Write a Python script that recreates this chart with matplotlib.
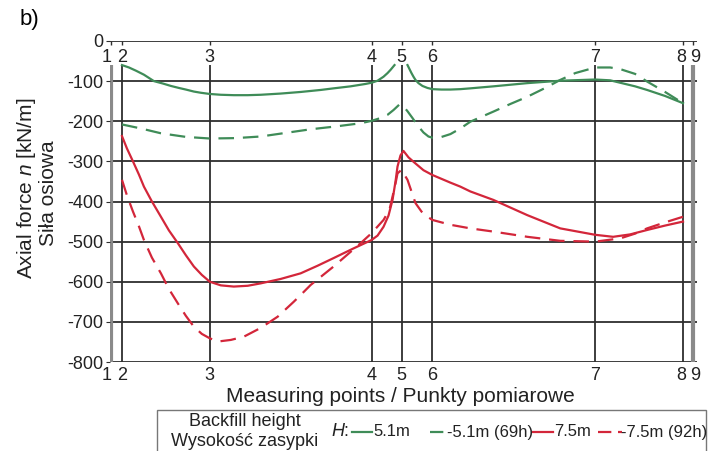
import numpy as np
import matplotlib.pyplot as plt
from matplotlib.lines import Line2D
from matplotlib.patches import Rectangle

plt.rcParams['font.family'] = ['Liberation Sans', 'DejaVu Sans']
plt.rcParams['mathtext.fontset'] = 'custom'
plt.rcParams['mathtext.it'] = 'Liberation Sans:italic'

# measuring points and their position along the lining (arbitrary units)
point_labels = ['1', '2', '3', '4', '5', '6', '7', '8', '9']
point_pos = [0, 11, 99, 261, 291, 322, 485, 573, 583]

# H = 5.1 m (two branches, broken at point 5)
g1_xa = [11, 18, 25, 33, 43, 52, 60, 68, 75, 83, 90, 99, 110, 123, 137, 150, 170, 190, 210, 223,
         240, 255, 261, 267, 273, 277, 280, 284]
g1_ya = [-60, -66, -74, -84, -100, -106, -112, -117, -121, -126, -129, -132, -134, -135, -135, -134,
         -131, -127, -122, -118, -113, -107, -104, -99, -89, -80, -72, -60]
g1_xb = [297, 299, 301, 303, 305, 308, 312, 317, 322, 331, 340, 350, 360, 383, 417, 450, 485, 500,
         510, 525, 537, 555, 573]
g1_yb = [-60, -70, -80, -89, -97, -105, -112, -117, -120, -121, -121, -120, -118, -113, -105, -99,
         -96, -98, -104, -113, -122, -137, -155]

# H = 5.1 m (69h)
g2_x = [11, 30, 50, 75, 99, 125, 150, 175, 200, 225, 250, 261, 270, 277, 283, 289, 293, 297, 302,
        307, 313, 318, 322, 330, 340, 350, 360, 383, 400, 417, 435, 450, 465, 485, 500, 510, 525,
        537, 555, 573]
g2_y = [-208, -218, -230, -239, -243, -242, -238, -229, -220, -213, -205, -199, -192, -184, -172,
        -158, -163, -175, -192, -210, -228, -238, -241, -240, -232, -218, -201, -176, -157, -139,
        -117, -97, -80, -66, -66, -70, -82, -101, -127, -155]

# H = 7.5 m
r1_x = [11, 16, 22, 28, 33, 41, 50, 58, 67, 75, 83, 91, 99, 110, 123, 137, 150, 170, 190, 207,
        223, 242, 261, 267, 273, 278, 282, 285, 287, 290, 293, 298, 303, 313, 322, 340, 350, 360,
        383, 417, 450, 485, 503, 520, 537, 555, 573]
r1_y = [-237, -268, -300, -333, -363, -400, -438, -472, -504, -534, -562, -583, -600, -609, -612,
        -610, -604, -593, -579, -560, -541, -518, -496, -485, -463, -435, -396, -350, -313, -285,
        -274, -290, -301, -322, -334, -353, -363, -375, -396, -434, -467, -483, -488, -482, -471,
        -460, -450]

# H = 7.5 m (92h)
r2_x = [11, 16, 22, 28, 33, 41, 50, 58, 67, 75, 83, 91, 99, 107, 120, 133, 150, 167, 183, 190,
        200, 223, 250, 261, 273, 279, 282, 285, 287, 291, 297, 301, 305, 311, 317, 322, 340, 360,
        383, 417, 450, 485, 510, 525, 537, 555, 573]
r2_y = [-346, -385, -425, -462, -496, -540, -579, -618, -654, -685, -712, -730, -741, -749, -745,
        -737, -715, -687, -650, -633, -608, -562, -504, -479, -446, -420, -388, -355, -330, -321,
        -346, -375, -404, -425, -438, -446, -458, -467, -475, -488, -498, -500, -492, -480, -467,
        -452, -438]

green = '#3f8c58'
red = '#d3263a'
grid = '#2e2e2e'

fig = plt.figure(figsize=(7.08, 4.51), dpi=100)
W, H = 708, 451
ax = fig.add_axes([110 / W, 1 - 362 / H, (697 - 110) / W, (362 - 41) / H])
ax.set_xlim(-1, 587)
ax.set_ylim(-800, 0)
for s in ax.spines.values():
    s.set_visible(False)

yt = np.arange(-800, 1, 100)
ax.set_yticks(yt)
ax.set_yticklabels([str(v) for v in yt], fontsize=13, color='#222222')
ax.tick_params(axis='y', length=3, color=grid, pad=2)
ax.set_xticks([])
for v in yt:
    ax.axhline(v, color=grid, lw=1.3, zorder=1)

# vertical lines at measuring points
nudge = {'1': -3, '8': -1, '9': 1.5}
for p, lab in zip(point_pos, point_labels):
    if lab in ('1', '9'):
        ax.vlines(p, -800, -60, color='#8a8a8a', lw=3, zorder=1)
    else:
        ax.vlines(p, -800, -60, color=grid, lw=1.3, zorder=1)
    ax.vlines(p, -10, 0, color=grid, lw=1, zorder=1)
    dx = nudge.get(lab, 0)
    ax.annotate(lab, (p, -42), xytext=(dx, 0), textcoords='offset points',
                ha='center', va='center', fontsize=13, color='#222222')
    ax.annotate(lab, (p, -800), xytext=(dx, -10), textcoords='offset points',
                ha='center', va='center', fontsize=13, color='#222222', annotation_clip=False)

ax.plot(g1_xa, g1_ya, color=green, lw=1.6, zorder=3)
ax.plot(g1_xb, g1_yb, color=green, lw=1.6, zorder=3)
ax.plot(g2_x, g2_y, color=green, lw=1.6, dashes=(7, 4), zorder=3)
ax.plot(r1_x, r1_y, color=red, lw=1.6, zorder=3)
ax.plot(r2_x, r2_y, color=red, lw=1.6, dashes=(7, 4), zorder=3)

fig.text(20 / W, 1 - 20 / H, 'b)', fontsize=16, ha='left', va='center')
fig.text(27 / W, 1 - 188 / H, 'Axial force $n$ [kN/m]', rotation=90, fontsize=15,
         ha='center', va='center', color='#222222')
fig.text(48 / W, 1 - 193 / H, 'Siła osiowa', rotation=90, fontsize=15,
         ha='center', va='center', color='#222222')
fig.text(400 / W, 1 - 396 / H, 'Measuring points / Punkty pomiarowe', fontsize=15,
         ha='center', va='center', color='#222222')

# legend box
fig.patches.append(Rectangle((157 / W, -0.05), (706 - 157) / W, 0.05 + 1 - 410 / H,
                             transform=fig.transFigure, fill=False, ec='#777777', lw=1))
fig.text(245 / W, 1 - 421 / H, 'Backfill height', fontsize=13, ha='center', va='center',
         color='#222222')
fig.text(245 / W, 1 - 441 / H, 'Wysokość zasypki', fontsize=13, ha='center', va='center',
         color='#222222')
ly = 1 - 432 / H
fig.text(331 / W, ly, '$H$:', fontsize=13, ha='left', va='center', color='#222222')
entries = [(green, None, 352, 372, '5.1m', 373),
           (green, (6, 3), 430, 450, '-5.1m (69h)', 447),
           (red, None, 533, 553, '7.5m', 554),
           (red, (6, 3), 598, 622, '-7.5m (92h)', 621)]
for c, d, x0, x1, txt, tx in entries:
    ln = Line2D([x0 / W, x1 / W], [ly, ly], transform=fig.transFigure, color=c, lw=1.6)
    if d is not None:
        ln.set_dashes(d)
    fig.lines.append(ln)
    fig.text(tx / W, ly, txt, fontsize=12, ha='left', va='center', color='#222222')

fig.savefig('out.png', dpi=100)
